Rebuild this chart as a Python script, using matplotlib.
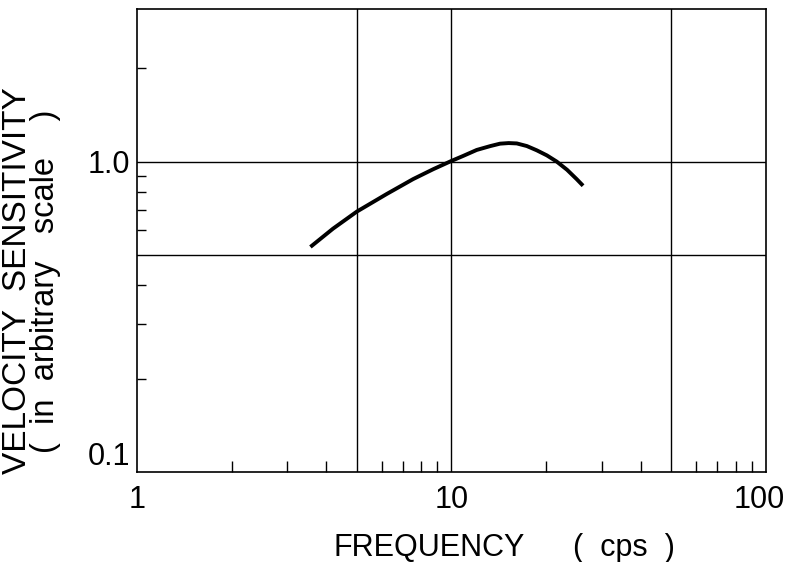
import matplotlib
matplotlib.use("Agg")
import matplotlib.pyplot as plt
from matplotlib.ticker import FixedLocator, NullFormatter

# curve
freq = [3.56, 4.2, 5.0, 6.22, 7.55, 8.75, 10.0, 10.9, 12.03, 13.3, 14.27, 15.2,
        16.13, 17.36, 18.67, 20.1, 21.6, 23.3, 25.0, 26.2]
sens = [0.531, 0.608, 0.69, 0.786, 0.878, 0.945, 1.005, 1.043, 1.09, 1.122, 1.142, 1.147,
        1.144, 1.122, 1.087, 1.047, 1.0, 0.941, 0.878, 0.836]

x_major = [1, 10, 100]
x_major_labels = ["1", "10", "100"]
x_minor = [2, 3, 4, 6, 7, 8, 9, 20, 30, 40, 60, 70, 80, 90]
x_grid = [5, 10, 50]

y_major = [0.1, 1.0]
y_major_labels = ["0.1", "1.0"]
y_minor = [0.2, 0.3, 0.4, 0.6, 0.7, 0.8, 0.9, 2.0]
y_grid = [0.5, 1.0]

plt.rcParams["font.family"] = ["Liberation Sans", "DejaVu Sans"]

fig = plt.figure(figsize=(7.85, 5.62), dpi=100)
ax = fig.add_axes([0.1745, 0.160, 0.8013, 0.824])

ax.set_xscale("log")
ax.set_yscale("log")
ax.set_xlim(1, 100)
ax.set_ylim(0.1, 3.1)

for v in x_grid:
    ax.axvline(v, color="black", linewidth=1.0)
for v in y_grid:
    ax.axhline(v, color="black", linewidth=1.0)

ax.plot(freq, sens, color="black", linewidth=2.8, solid_capstyle="butt")

ax.xaxis.set_major_locator(FixedLocator(x_major))
ax.xaxis.set_minor_locator(FixedLocator(x_minor))
ax.xaxis.set_major_formatter(NullFormatter())
ax.xaxis.set_minor_formatter(NullFormatter())
ax.yaxis.set_major_locator(FixedLocator(y_major))
ax.yaxis.set_minor_locator(FixedLocator(y_minor))
ax.set_yticklabels(y_major_labels)
ax.yaxis.set_minor_formatter(NullFormatter())

ax.tick_params(which="major", length=0, labelsize=22, colors="black")
ax.tick_params(axis="y", which="major", pad=5)
ax.tick_params(axis="x", which="minor", direction="in", length=8, width=1.0)
ax.tick_params(axis="y", which="minor", direction="in", length=6.5, width=1.0)
ax.get_yticklabels()[0].set_verticalalignment("bottom")
ax.get_yticklabels()[1].set_verticalalignment("center_baseline")

# x tick labels drawn by hand so the last one can sit inside the figure
xform = ax.get_xaxis_transform()
for v, lab in zip(x_major, x_major_labels):
    dx = -5 if v == x_major[-1] else 0
    ax.annotate(lab, xy=(v, 0), xycoords=xform, xytext=(dx, -9),
                textcoords="offset points", ha="center", va="top", fontsize=22)

for s in ax.spines.values():
    s.set_linewidth(1.2)

fig.text(333 / 785, 1 - 556 / 562, "FREQUENCY", fontsize=22, ha="left", va="baseline")
fig.text(573 / 785, 1 - 556 / 562, "(  cps  )", fontsize=22, ha="left", va="baseline")
fig.text(0.022, 0.50, "VELOCITY  SENSITIVITY", fontsize=24,
         rotation=90, ha="center", va="center")
fig.text(0.058, 0.50, "(  in  arbitrary   scale    )", fontsize=23.5,
         rotation=90, ha="center", va="center")

fig.savefig("out.png", dpi=100)
